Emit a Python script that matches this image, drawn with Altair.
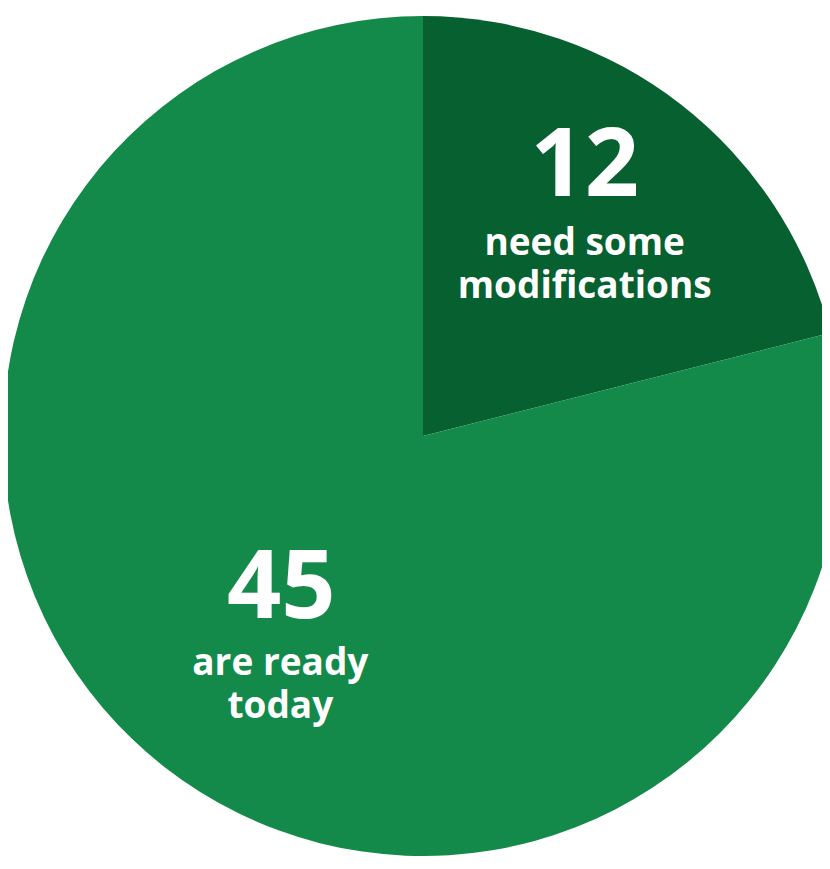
import altair as alt
import pandas as pd

categories = ["modifications", "ready"]
counts = [12, 45]
descriptions = ["need some\nmodifications", "are ready\ntoday"]
slice_colors = ["#07602f", "#138a4a"]

df = pd.DataFrame({"category": categories, "count": counts, "label": descriptions})

base = alt.Chart(df).transform_window(idx="row_number()").encode(
    theta=alt.Theta("count:Q", stack=True),
    order=alt.Order("idx:Q"),
)

pie = base.mark_arc(outerRadius=420, stroke=None).encode(
    x=alt.value(415),
    y=alt.value(428),
    color=alt.Color(
        "category:N",
        scale=alt.Scale(domain=categories, range=slice_colors),
        legend=None,
    ),
)

num_style = dict(
    radius=260,
    font="Open Sans",
    fontWeight="bold",
    fontSize=95,
    color="white",
    align="center",
    baseline="alphabetic",
)
desc_style = dict(
    radius=260,
    font="Open Sans",
    fontWeight="bold",
    fontSize=37,
    lineHeight=43,
    lineBreak="\n",
    color="white",
    align="center",
    baseline="alphabetic",
)


def only(idx, field):
    return alt.condition(f"datum.idx == {idx}", field, alt.value(""))


# text polar centre is (width/2, height/2)
num_a = base.mark_text(dx=10, dy=-31, **num_style).encode(
    text=only(1, alt.Text("count:Q"))
)
desc_a = base.mark_text(dx=10, dy=28, **desc_style).encode(
    text=only(1, alt.Text("label:N"))
)
num_b = base.mark_text(dx=26, dy=-19, **num_style).encode(
    text=only(2, alt.Text("count:Q"))
)
desc_b = base.mark_text(dx=25, dy=38, **desc_style).encode(
    text=only(2, alt.Text("label:N"))
)

chart = (
    alt.layer(pie, num_a, desc_a, num_b, desc_b)
    .properties(
        width=814,
        height=848,
        padding=0,
        autosize=alt.AutoSizeParams(type="none"),
        background="white",
    )
    .configure_view(stroke=None)
)

chart.save("out.html", embed_options={"renderer": "svg", "actions": False})
